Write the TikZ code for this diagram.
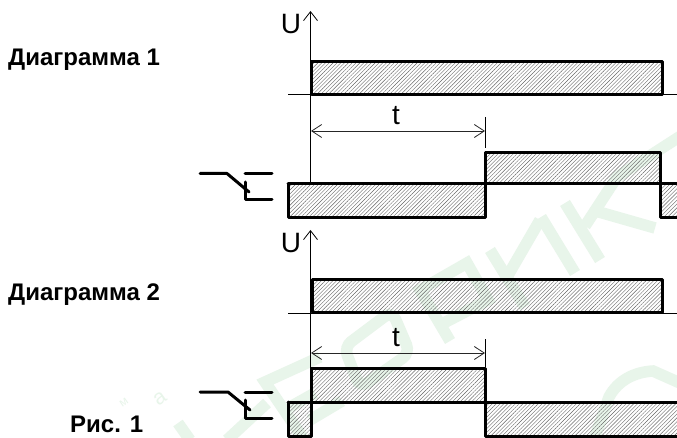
\documentclass[tikz,border=0pt]{standalone}
\usepackage{fontspec}
\setmainfont{Liberation Sans}
\usetikzlibrary{patterns.meta,arrows.meta}
\definecolor{wmgreen}{HTML}{E8F5EA}
\tikzset{
  x=1pt,y=-1pt,
  thin line/.style={line width=1pt,black},
  thick line/.style={line width=3pt,black,line cap=round,line join=round},
  hatched/.style={pattern={Lines[angle=45,distance=2.7pt,line width=0.4pt]},pattern color=black!60},
  axis/.style={thin line,-{Straight Barb[length=9pt,width=14pt,line width=0.8pt]}},
  dim/.style={line width=0.8pt,black!85,{Straight Barb[length=10pt,width=13pt,line width=0.8pt]}-{Straight Barb[length=10pt,width=13pt,line width=0.8pt]}},
  title/.style={font=\bfseries\fontsize{24}{28}\selectfont,anchor=base west,inner sep=0pt},
  big/.style={font=\fontsize{28}{32}\selectfont,anchor=base,inner sep=0pt},
  wm/.style={line width=11.5pt,wmgreen,line join=miter},
  wmt/.style={font=\fontsize{21}{22}\selectfont,text=wmgreen,rotate=35,inner sep=0pt},
}
\begin{document}
\begin{tikzpicture}
\useasboundingbox (0,0) rectangle (677,438);
\fill[white] (0,0) rectangle (677,438);
% watermark
\draw[wm] (565,203) -- (600,260);
\draw[wm] (585,226) -- (617,177) -- (690,130);
\draw[wm] (592,210) -- (655,228);
\draw[wm] (490,250) -- (525,307);
\draw[wm] (507,277) -- (540,220);
\draw[wm] (541,217) -- (575,273);
\draw[wm] (450,341) -- (420,290) -- (467,263) -- (488,300) -- (438,326);
\draw[wm,rounded corners=9pt] (344,347) -- (392,311) -- (410,353) -- (360,388) -- cycle;
\draw[wm] (310,420) -- (342,401);
\draw[wm] (320,357) -- (265,382) -- (303,438);
\draw[wm] (290,407) -- (315,393);
\draw[wm] (267,403) -- (227,440);
\draw[wm] (178,423) -- (190,440);
\draw[wm] (594,440) -- (609,397) .. controls (618,380) and (635,372) .. (653,371) -- (680,383);
\node[wmt] (wa) at (160,399) {а};
\node[wmt,font=\fontsize{12}{14}\selectfont] (wm) at (124,403) {м};
% top
\coordinate (a1t) at (310.5,11); \coordinate (a1b) at (310.5,184);
\draw[axis] (a1b) -- (a1t);
\fill[hatched] (311,62) rectangle (662,95);
\draw[thin line] (288,95) -- (677,95);
\draw[thick line] (311,95) -- (311,62) -- (662,62) -- (662,95) -- cycle;
\node[big] (u1) at (291,34) {U};
\node[big] (t1) at (396,125) {t};
\coordinate (d1a) at (311,131); \coordinate (d1b) at (485,131);
\draw[dim] (d1a) -- (d1b);
\coordinate (k1a) at (485,117); \coordinate (k1b) at (485,148);
\draw[thin line] (k1a) -- (k1b);
\fill[hatched] (288,184) rectangle (485,218);
\fill[hatched] (485,153) rectangle (660,184);
\fill[hatched] (660,184) rectangle (677,218);
\draw[thick line] (288,184) -- (288,218) -- (485,218) -- (485,153) -- (660,153) -- (660,218) -- (677,218);
\draw[thick line] (288,184) -- (677,184);
\draw[thick line] (200,173.5) -- (227,173.5) -- (249,192);
\draw[thick line] (245,173.5) -- (272,173.5);
\draw[thick line] (245,182) -- (245,200) -- (272,200);
% bottom
\coordinate (a2t) at (310.5,230); \coordinate (a2b) at (310.5,402);
\draw[axis] (a2b) -- (a2t);
\fill[hatched] (312,280) rectangle (662,312);
\draw[thin line] (288,313) -- (677,313);
\draw[thick line] (312,312) -- (312,280) -- (662,280) -- (662,312) -- cycle;
\node[big] (u2) at (291,253) {U};
\node[big] (t2) at (396,346) {t};
\coordinate (d2a) at (311,353); \coordinate (d2b) at (485,353);
\draw[dim] (d2a) -- (d2b);
\coordinate (k2a) at (485,339); \coordinate (k2b) at (485,367);
\draw[thin line] (k2a) -- (k2b);
\fill[hatched] (288,402) rectangle (311,436);
\fill[hatched] (312,368) rectangle (485,402);
\fill[hatched] (485,402) rectangle (677,436);
\draw[thick line] (288,402) -- (288,436) -- (311,436) -- (311,368) -- (485,368) -- (485,436) -- (677,436);
\draw[thick line] (288,402) -- (677,402);
\draw[thick line] (200,392) -- (228,392) -- (250,410);
\draw[thick line] (245,392) -- (272,392);
\draw[thick line] (245,400) -- (245,418) -- (272,418);
% texts
\node[title] (h1) at (8,65.5) {Диаграмма 1};
\node[title] (h2) at (8,301) {Диаграмма 2};
\node[title] (fig) at (70,432) {Рис. 1};
\end{tikzpicture}
\end{document}
